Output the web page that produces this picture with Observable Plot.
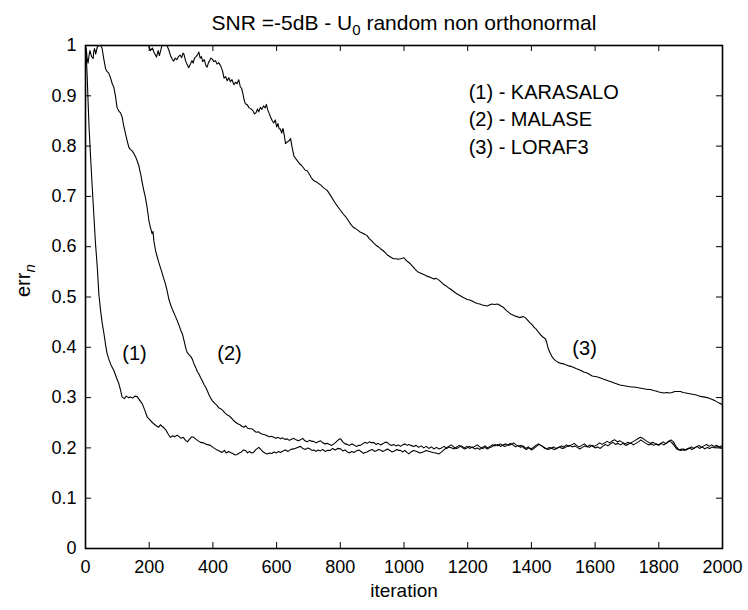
<!DOCTYPE html>
<html>
<head>
<meta charset="utf-8">
<script src="https://cdn.jsdelivr.net/npm/d3@7"></script>
<script src="https://cdn.jsdelivr.net/npm/@observablehq/plot@0.6"></script>
<style>
  html, body { margin: 0; padding: 0; background: white; }
</style>
</head>
<body>
<div id="chart"></div>
<script>
// ---- data (iteration, err_n) ----
const karasalo = [[0,1.0],[3,0.97],[5,0.944],[8,0.89],[11,0.84],[16,0.778],[21,0.72],[26,0.665],[31,0.61],[37,0.559],[42,0.505],[47,0.475],[52,0.45],[58,0.427],[63,0.405],[68,0.387],[74,0.375],[80,0.365],[89,0.354],[97,0.34],[105,0.327],[110,0.315],[115,0.301],[122,0.298],[128,0.303],[135,0.300],[141,0.301],[148,0.299],[155,0.303],[162,0.302],[168,0.297],[173,0.292],[178,0.288],[186,0.275],[194,0.261],[200,0.257],[209,0.251],[216,0.247],[222,0.244],[230,0.241],[235,0.246],[240,0.243],[246,0.240],[252,0.236],[258,0.229],[263,0.224],[267,0.221],[274,0.224],[280,0.222],[287,0.225],[293,0.223],[300,0.219],[307,0.221],[314,0.215],[320,0.212],[326,0.217],[333,0.222],[340,0.221],[347,0.217],[354,0.214],[361,0.211],[370,0.21],[380,0.207],[392,0.205],[400,0.201],[410,0.197],[420,0.194],[429,0.191],[436,0.195],[442,0.19],[449,0.193],[455,0.191],[462,0.189],[470,0.186],[476,0.187],[483,0.19],[490,0.192],[496,0.196],[502,0.195],[509,0.19],[515,0.193],[522,0.19],[528,0.191],[534,0.196],[540,0.199],[544,0.201],[550,0.197],[556,0.193],[563,0.19],[570,0.188],[578,0.19],[585,0.189],[592,0.192],[600,0.19],[606,0.193],[612,0.191],[620,0.194],[628,0.196],[636,0.193],[645,0.197],[654,0.198],[662,0.2],[670,0.202],[675,0.203],[682,0.199],[690,0.197],[698,0.2],[705,0.198],[711,0.195],[717,0.196],[724,0.193],[730,0.196],[738,0.194],[745,0.197],[752,0.193],[760,0.195],[769,0.195],[776,0.199],[784,0.196],[792,0.199],[801,0.198],[808,0.194],[815,0.196],[822,0.192],[830,0.19],[836,0.193],[843,0.191],[850,0.194],[858,0.196],[865,0.193],[872,0.189],[878,0.191],[884,0.192],[892,0.195],[900,0.197],[908,0.193],[915,0.195],[920,0.197],[926,0.196],[933,0.193],[940,0.195],[948,0.198],[956,0.195],[962,0.192],[970,0.194],[978,0.197],[984,0.195],[989,0.195],[996,0.192],[1003,0.195],[1009,0.191],[1015,0.188],[1022,0.192],[1030,0.195],[1040,0.193],[1050,0.19],[1060,0.192],[1070,0.195],[1080,0.193],[1090,0.191],[1100,0.19],[1110,0.188],[1118,0.192],[1125,0.196],[1133,0.2],[1140,0.203],[1148,0.206],[1156,0.202],[1165,0.199],[1172,0.201],[1180,0.204],[1190,0.2],[1198,0.203],[1206,0.199],[1214,0.202],[1222,0.198],[1230,0.2],[1238,0.197],[1246,0.201],[1255,0.204],[1262,0.2],[1270,0.203],[1278,0.206],[1286,0.204],[1295,0.207],[1303,0.203],[1312,0.206],[1320,0.208],[1328,0.205],[1336,0.207],[1344,0.21],[1352,0.206],[1360,0.203],[1368,0.205],[1376,0.2],[1384,0.197],[1392,0.2],[1400,0.196],[1408,0.199],[1416,0.203],[1424,0.207],[1432,0.204],[1440,0.2],[1448,0.198],[1456,0.201],[1464,0.199],[1472,0.197],[1480,0.2],[1488,0.202],[1496,0.199],[1504,0.2],[1512,0.203],[1520,0.205],[1528,0.202],[1536,0.204],[1544,0.201],[1552,0.198],[1560,0.201],[1568,0.204],[1576,0.202],[1584,0.206],[1592,0.203],[1600,0.2],[1608,0.202],[1616,0.199],[1624,0.203],[1632,0.207],[1640,0.204],[1648,0.208],[1656,0.211],[1664,0.207],[1672,0.209],[1680,0.206],[1688,0.209],[1696,0.205],[1704,0.207],[1712,0.21],[1720,0.206],[1728,0.209],[1736,0.212],[1744,0.216],[1752,0.212],[1760,0.209],[1768,0.206],[1776,0.208],[1784,0.205],[1792,0.208],[1800,0.205],[1808,0.209],[1816,0.206],[1824,0.21],[1832,0.214],[1840,0.211],[1848,0.205],[1856,0.198],[1864,0.196],[1872,0.198],[1880,0.195],[1888,0.198],[1896,0.2],[1904,0.197],[1912,0.2],[1920,0.203],[1928,0.199],[1936,0.202],[1944,0.198],[1952,0.201],[1960,0.199],[1968,0.202],[1976,0.2],[1984,0.203],[1992,0.2],[2000,0.199]];

const malase = [[0,1.0],[3,0.99],[5,0.975],[8,0.965],[11,0.98],[14,0.99],[17,0.983],[19,0.978],[22,0.976],[24,0.974],[26,0.988],[28,0.994],[30,0.99],[32,0.983],[35,0.992],[37,0.997],[42,1.0],[47,1.0],[52,0.995],[57,0.975],[63,0.954],[68,0.948],[73,0.945],[78,0.937],[84,0.924],[89,0.917],[94,0.9],[99,0.877],[104,0.87],[110,0.866],[115,0.858],[120,0.84],[126,0.824],[131,0.81],[136,0.798],[141,0.793],[147,0.79],[152,0.785],[157,0.779],[162,0.771],[167,0.762],[173,0.745],[178,0.728],[183,0.712],[188,0.698],[193,0.68],[199,0.652],[204,0.638],[209,0.626],[212,0.63],[215,0.61],[220,0.592],[225,0.58],[230,0.569],[235,0.559],[240,0.549],[245,0.538],[251,0.526],[256,0.513],[262,0.495],[268,0.483],[275,0.472],[282,0.462],[288,0.453],[294,0.443],[299,0.434],[304,0.427],[310,0.412],[315,0.398],[319,0.39],[324,0.386],[330,0.382],[335,0.377],[340,0.368],[346,0.36],[351,0.352],[356,0.347],[362,0.339],[367,0.333],[372,0.326],[377,0.321],[382,0.314],[388,0.305],[393,0.299],[398,0.294],[405,0.289],[412,0.285],[418,0.28],[424,0.278],[430,0.275],[437,0.27],[444,0.266],[450,0.264],[457,0.26],[464,0.255],[471,0.251],[478,0.248],[485,0.246],[491,0.243],[497,0.241],[503,0.244],[509,0.239],[516,0.238],[523,0.238],[530,0.234],[536,0.231],[543,0.232],[549,0.229],[556,0.227],[563,0.226],[570,0.224],[577,0.222],[584,0.223],[591,0.221],[598,0.219],[605,0.221],[612,0.218],[619,0.22],[626,0.217],[633,0.218],[640,0.215],[647,0.217],[654,0.219],[661,0.216],[668,0.214],[675,0.216],[682,0.219],[689,0.214],[696,0.212],[703,0.215],[710,0.213],[717,0.213],[724,0.21],[731,0.212],[738,0.214],[745,0.21],[752,0.208],[759,0.209],[766,0.207],[773,0.205],[780,0.208],[787,0.212],[794,0.216],[801,0.218],[808,0.212],[815,0.208],[822,0.207],[829,0.205],[836,0.208],[843,0.206],[850,0.203],[857,0.205],[863,0.205],[870,0.208],[877,0.211],[884,0.209],[891,0.212],[898,0.21],[905,0.211],[912,0.207],[919,0.209],[926,0.206],[933,0.208],[940,0.211],[947,0.211],[954,0.207],[961,0.205],[968,0.207],[975,0.204],[982,0.206],[989,0.203],[996,0.206],[1003,0.208],[1010,0.205],[1015,0.207],[1022,0.205],[1030,0.203],[1038,0.205],[1046,0.201],[1054,0.204],[1062,0.2],[1070,0.203],[1078,0.199],[1086,0.202],[1094,0.198],[1102,0.201],[1110,0.198],[1118,0.2],[1126,0.203],[1134,0.199],[1142,0.202],[1150,0.2],[1158,0.198],[1166,0.202],[1174,0.205],[1182,0.201],[1190,0.198],[1198,0.2],[1206,0.203],[1214,0.2],[1222,0.203],[1230,0.206],[1238,0.202],[1246,0.199],[1254,0.201],[1262,0.198],[1270,0.201],[1278,0.203],[1286,0.207],[1294,0.204],[1302,0.208],[1310,0.205],[1318,0.203],[1326,0.206],[1334,0.209],[1342,0.206],[1350,0.202],[1358,0.205],[1366,0.201],[1374,0.204],[1382,0.199],[1390,0.202],[1398,0.198],[1406,0.201],[1414,0.205],[1422,0.208],[1430,0.205],[1438,0.202],[1446,0.199],[1454,0.197],[1462,0.2],[1470,0.202],[1478,0.198],[1486,0.201],[1494,0.204],[1502,0.202],[1510,0.206],[1518,0.203],[1526,0.206],[1534,0.209],[1542,0.205],[1550,0.202],[1558,0.205],[1566,0.208],[1574,0.204],[1582,0.201],[1590,0.205],[1598,0.203],[1606,0.206],[1614,0.21],[1622,0.207],[1630,0.21],[1638,0.213],[1646,0.21],[1654,0.214],[1662,0.216],[1670,0.212],[1678,0.214],[1686,0.211],[1694,0.208],[1702,0.211],[1710,0.209],[1718,0.212],[1726,0.215],[1734,0.218],[1742,0.221],[1750,0.219],[1758,0.215],[1766,0.212],[1774,0.209],[1782,0.211],[1790,0.208],[1798,0.206],[1806,0.209],[1814,0.212],[1822,0.208],[1830,0.212],[1838,0.216],[1846,0.212],[1854,0.203],[1862,0.197],[1870,0.195],[1878,0.198],[1886,0.196],[1894,0.199],[1902,0.202],[1910,0.199],[1918,0.202],[1926,0.205],[1934,0.201],[1942,0.204],[1950,0.207],[1958,0.203],[1966,0.206],[1974,0.203],[1982,0.205],[1990,0.202],[2000,0.205]];

const loraf3 = [[0,1.08],[40,1.07],[80,1.06],[120,1.05],[160,1.03],[190,1.01],[198,1.0],[204,0.99],[210,0.995],[216,0.985],[223,0.977],[228,0.99],[232,0.98],[238,0.995],[243,1.005],[250,1.003],[256,1.0],[262,0.99],[268,0.978],[273,0.972],[277,0.969],[282,0.975],[287,0.972],[292,0.978],[297,0.981],[302,0.976],[306,0.985],[309,0.983],[314,0.97],[319,0.962],[324,0.956],[329,0.962],[334,0.97],[338,0.965],[342,0.975],[347,0.978],[352,0.982],[356,0.987],[360,0.975],[364,0.978],[368,0.968],[373,0.972],[378,0.96],[382,0.957],[386,0.966],[390,0.97],[394,0.975],[398,0.973],[403,0.968],[408,0.97],[413,0.963],[418,0.966],[424,0.96],[430,0.95],[435,0.935],[440,0.938],[445,0.93],[450,0.936],[455,0.928],[460,0.932],[466,0.922],[471,0.927],[476,0.924],[481,0.932],[486,0.918],[490,0.915],[494,0.905],[498,0.892],[502,0.884],[508,0.882],[514,0.876],[520,0.874],[526,0.87],[531,0.864],[536,0.867],[540,0.874],[544,0.868],[549,0.877],[554,0.873],[559,0.88],[564,0.876],[568,0.883],[572,0.872],[576,0.866],[581,0.858],[586,0.851],[591,0.846],[596,0.852],[600,0.838],[604,0.845],[608,0.834],[612,0.834],[616,0.826],[620,0.835],[624,0.822],[628,0.805],[633,0.808],[638,0.81],[644,0.815],[648,0.8],[654,0.781],[660,0.775],[666,0.77],[672,0.765],[678,0.762],[684,0.757],[690,0.752],[696,0.751],[702,0.745],[708,0.738],[714,0.733],[720,0.73],[727,0.728],[733,0.725],[740,0.722],[746,0.718],[752,0.715],[759,0.712],[766,0.705],[773,0.698],[780,0.691],[787,0.684],[794,0.678],[801,0.672],[808,0.666],[815,0.661],[822,0.655],[829,0.648],[835,0.643],[842,0.638],[848,0.636],[855,0.633],[862,0.629],[869,0.627],[876,0.625],[884,0.622],[891,0.616],[898,0.612],[905,0.607],[912,0.603],[919,0.6],[926,0.596],[933,0.593],[940,0.589],[947,0.584],[954,0.581],[961,0.578],[968,0.576],[975,0.576],[982,0.575],[989,0.576],[995,0.577],[1000,0.578],[1005,0.574],[1012,0.57],[1020,0.566],[1027,0.561],[1034,0.556],[1040,0.552],[1046,0.549],[1053,0.547],[1060,0.545],[1067,0.543],[1074,0.541],[1080,0.54],[1087,0.538],[1094,0.536],[1101,0.537],[1109,0.534],[1116,0.53],[1123,0.526],[1130,0.523],[1138,0.519],[1146,0.516],[1154,0.512],[1162,0.508],[1170,0.505],[1178,0.502],[1186,0.499],[1193,0.497],[1198,0.495],[1206,0.494],[1214,0.492],[1222,0.489],[1230,0.487],[1238,0.486],[1246,0.484],[1254,0.483],[1261,0.482],[1268,0.484],[1276,0.486],[1284,0.485],[1293,0.486],[1300,0.484],[1307,0.481],[1313,0.479],[1320,0.474],[1328,0.47],[1335,0.466],[1342,0.464],[1349,0.462],[1355,0.461],[1362,0.459],[1368,0.46],[1375,0.461],[1381,0.459],[1388,0.454],[1395,0.449],[1402,0.445],[1408,0.44],[1415,0.436],[1422,0.43],[1430,0.424],[1437,0.42],[1444,0.417],[1448,0.41],[1451,0.402],[1455,0.394],[1460,0.387],[1465,0.381],[1470,0.377],[1477,0.373],[1484,0.37],[1493,0.368],[1502,0.367],[1510,0.365],[1517,0.363],[1525,0.362],[1533,0.36],[1540,0.358],[1548,0.356],[1556,0.354],[1564,0.351],[1575,0.349],[1583,0.346],[1591,0.343],[1600,0.342],[1608,0.341],[1617,0.339],[1625,0.337],[1634,0.335],[1643,0.333],[1652,0.331],[1660,0.329],[1669,0.327],[1678,0.325],[1687,0.324],[1696,0.323],[1705,0.322],[1713,0.321],[1722,0.321],[1731,0.32],[1740,0.319],[1748,0.318],[1757,0.317],[1766,0.316],[1774,0.316],[1783,0.314],[1791,0.313],[1800,0.311],[1808,0.31],[1816,0.309],[1825,0.31],[1834,0.309],[1842,0.31],[1850,0.312],[1860,0.312],[1868,0.312],[1876,0.31],[1885,0.309],[1893,0.308],[1902,0.307],[1910,0.306],[1918,0.305],[1927,0.303],[1935,0.302],[1944,0.301],[1952,0.3],[1960,0.298],[1968,0.296],[1976,0.294],[1984,0.291],[1990,0.289],[1994,0.288],[2000,0.285]];

const xTicks = [0, 200, 400, 600, 800, 1000, 1200, 1400, 1600, 1800, 2000];
const xTickLabels = ["0", "200", "400", "600", "800", "1000", "1200", "1400", "1600", "1800", "2000"];
const yTicks = [0, 0.1, 0.2, 0.3, 0.4, 0.5, 0.6, 0.7, 0.8, 0.9, 1];
const yTickLabels = ["0", "0.1", "0.2", "0.3", "0.4", "0.5", "0.6", "0.7", "0.8", "0.9", "1"];
const legendLabels = ["(1) - KARASALO", "(2) - MALASE", "(3) - LORAF3"];
const curveTags = ["(1)", "(2)", "(3)"];
const titleParts = ["SNR =-5dB - U", "0", " random non orthonormal"];
const yLabelParts = ["err", "n"];
const xLabel = "iteration";

const titleText = titleParts.join("");
const yLabelText = yLabelParts.join("");
const FONT = "'Liberation Sans', Arial, Helvetica, sans-serif";

const lineOpts = {x: d => d[0], y: d => d[1], stroke: "black", strokeWidth: 1.1, clip: true};

const chart = Plot.plot({
  width: 748,
  height: 610,
  marginLeft: 85,
  marginRight: 26,
  marginTop: 45,
  marginBottom: 62,
  style: {fontFamily: FONT, fontSize: "18px", color: "black", background: "white"},
  x: {domain: [0, 2000]},
  y: {domain: [0, 1]},
  marks: [
    Plot.line(karasalo, lineOpts),
    Plot.line(malase, lineOpts),
    Plot.line(loraf3, lineOpts),
    Plot.ruleX(xTicks, {x: d => d, y1: 0, y2: 0.012, stroke: "black", strokeWidth: 1}),
    Plot.ruleX(xTicks, {x: d => d, y1: 0.988, y2: 1, stroke: "black", strokeWidth: 1}),
    Plot.ruleY(yTicks, {y: d => d, x1: 0, x2: 19, stroke: "black", strokeWidth: 1}),
    Plot.ruleY(yTicks, {y: d => d, x1: 1981, x2: 2000, stroke: "black", strokeWidth: 1}),
    Plot.frame({stroke: "black", strokeWidth: 1.6}),
    Plot.axisX(xTicks, {tickSize: 0, tickPadding: 12, label: null, fontSize: 18,
      tickFormat: d => xTickLabels[xTicks.indexOf(d)]}),
    Plot.axisY(yTicks, {tickSize: 0, tickPadding: 9, label: null, fontSize: 18,
      tickFormat: d => yTickLabels[yTicks.indexOf(d)]}),
    Plot.text(legendLabels, {x: () => 1203, y: (d, i) => [0.907, 0.853, 0.797][i], text: d => d,
      textAnchor: "start", fontSize: 20, fill: "black"}),
    Plot.text(curveTags, {x: (d, i) => [154, 452, 1567][i], y: (d, i) => [0.388, 0.388, 0.398][i], text: d => d,
      fontSize: 20, fill: "black"}),
    Plot.text([titleText], {frameAnchor: "top", dy: -30, text: d => d, fontSize: 21, fill: "black"}),
    Plot.text([xLabel], {frameAnchor: "bottom", dy: 48, text: d => d, fontSize: 19, fill: "black"}),
    Plot.text([yLabelText], {frameAnchor: "left", dx: -62, rotate: -90, text: d => d, fontSize: 20, fill: "black"})
  ]
});

// subscripts as real text with tspans
d3.select(chart).selectAll("text").each(function () {
  const t = d3.select(this);
  const s = this.textContent;
  if (s === titleText) {
    t.text(null);
    t.append("tspan").text(titleParts[0]);
    t.append("tspan").attr("dy", 5).attr("font-size", 15).text(titleParts[1]);
    t.append("tspan").attr("dy", -5).text(titleParts[2]);
  } else if (s === yLabelText) {
    t.text(null);
    t.append("tspan").text(yLabelParts[0]);
    t.append("tspan").attr("dy", 5).attr("font-size", 15).attr("font-style", "italic").text(yLabelParts[1]);
  }
});

document.getElementById("chart").appendChild(chart);
</script>
</body>
</html>
